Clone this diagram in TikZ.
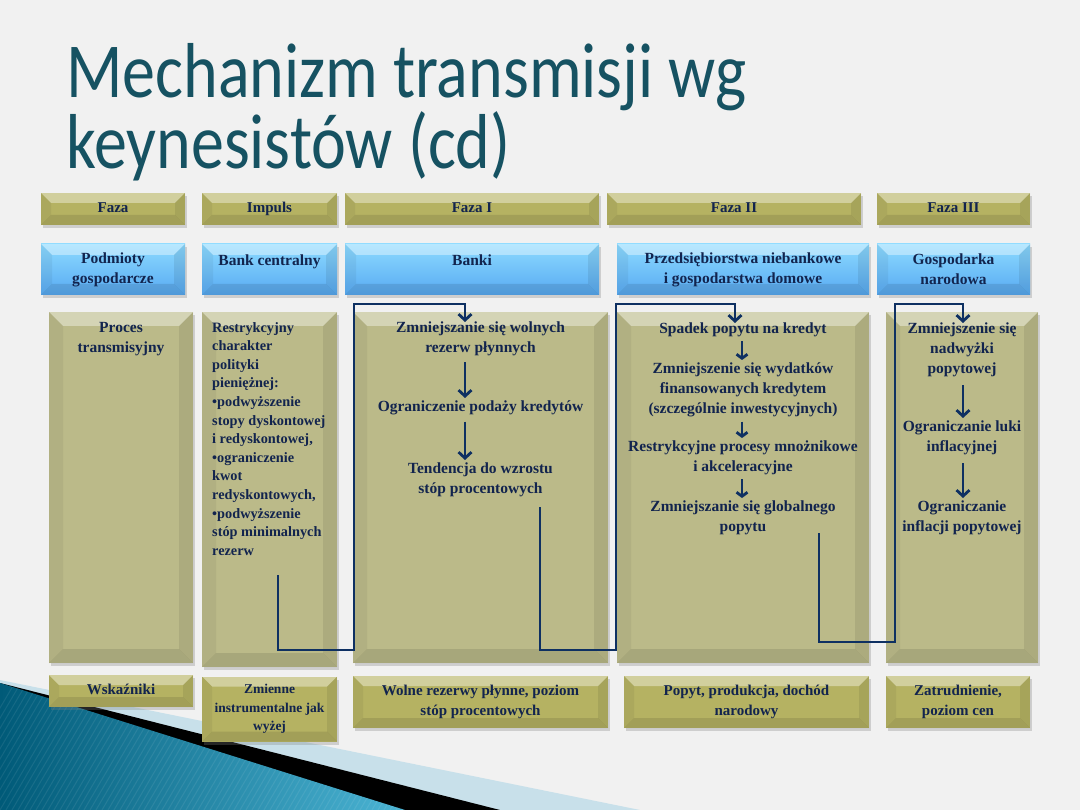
\documentclass[tikz,border=0pt]{standalone}
\usepackage{fontspec}
\setmainfont{Liberation Serif}
\newfontfamily\titlefont{Carlito}
\usetikzlibrary{arrows.meta,positioning,shadows}

\definecolor{slidebg}{RGB}{241,241,241}
\definecolor{titleteal}{RGB}{22,82,98}
\definecolor{inkblue}{RGB}{18,36,78}
\definecolor{flowblue}{RGB}{14,48,98}
\definecolor{oliv}{RGB}{181,178,98}
\definecolor{olivlight}{RGB}{187,186,137}
\definecolor{skytop}{RGB}{140,218,255}
\definecolor{skybot}{RGB}{88,170,242}
\definecolor{tealdark}{RGB}{0,90,120}
\definecolor{teallight}{RGB}{75,180,212}
\definecolor{paleblue}{RGB}{200,224,234}

\tikzset{
  bevel/.style={path picture={
    \fill[white,opacity=.38] (path picture bounding box.north west) -- (path picture bounding box.north east)
      -- ([xshift=-#1,yshift=-#1]path picture bounding box.north east) -- ([xshift=#1,yshift=-#1]path picture bounding box.north west) -- cycle;
    \fill[black,opacity=.10] (path picture bounding box.south west) -- (path picture bounding box.south east)
      -- ([xshift=-#1,yshift=#1]path picture bounding box.south east) -- ([xshift=#1,yshift=#1]path picture bounding box.south west) -- cycle;
    \fill[black,opacity=.05] (path picture bounding box.north west) -- (path picture bounding box.south west)
      -- ([xshift=#1,yshift=#1]path picture bounding box.south west) -- ([xshift=#1,yshift=-#1]path picture bounding box.north west) -- cycle;
    \fill[black,opacity=.08] (path picture bounding box.north east) -- (path picture bounding box.south east)
      -- ([xshift=-#1,yshift=#1]path picture bounding box.south east) -- ([xshift=-#1,yshift=-#1]path picture bounding box.north east) -- cycle;
  }},
  boxshadow/.style={drop shadow={opacity=.3,shadow xshift=2pt,shadow yshift=-3pt}},
  goldbox/.style={rectangle, fill=oliv, bevel=10pt, boxshadow, inner sep=0pt,
    text=inkblue, font=\fontsize{15}{20}\selectfont\bfseries, align=center},
  goldhead/.style={goldbox, minimum height=32, text height=10.5pt, text depth=3.5pt},
  bluebox/.style={rectangle, top color=skytop, bottom color=skybot, bevel=11pt, boxshadow, inner sep=0pt,
    minimum height=51, text=inkblue, font=\fontsize{15.5}{20}\selectfont\bfseries, align=center},
  colbox/.style={rectangle, fill=olivlight, bevel=14pt, boxshadow, inner sep=0pt},
  txt/.style={anchor=north, inner sep=0pt, text=inkblue, font=\fontsize{15.5}{20}\selectfont\bfseries, align=center},
  flow/.style={draw=flowblue, line width=2.8pt, -{Straight Barb[length=6pt,width=13pt]}},
  shortflow/.style={flow, -{Straight Barb[length=4pt,width=11pt]}},
}

\begin{document}
\begin{tikzpicture}[x=1pt,y=-1pt]
\useasboundingbox (0,0) rectangle (1080,810);
\fill[slidebg] (0,0) rectangle (1080,810);

% corner decoration
\fill[paleblue] (0,680) -- (640,810) -- (0,810) -- cycle;
\fill[black] (0,683) -- (500,810) -- (0,810) -- cycle;
\shade[left color=tealdark, right color=teallight] (0,683) -- (405,810) -- (0,810) -- cycle;
\begin{scope}
  \clip (0,683) -- (405,810) -- (0,810) -- cycle;
  \foreach \s in {0,6,...,480}
    \draw[white,opacity=.08,line width=1pt] (\s-60,810) -- (\s+40,640);
\end{scope}

% title
\begin{scope}[shift={(66,43)}, yscale=1.18]
  \node[anchor=north west, inner sep=0pt, align=left, text=titleteal, transform shape,
    font=\titlefont\fontsize{66}{46.6}\selectfont] (title) at (0,0)
    {Mechanizm transmisji wg\\keynesistów (cd)};
\end{scope}

% header row
\node[goldhead, minimum width=144] (faza) at (113,209) {Faza};
\node[goldhead, minimum width=135] (impuls) at (269.5,209) {Impuls};
\node[goldhead, minimum width=254] (fazaI) at (472,209) {Faza I};
\node[goldhead, minimum width=254] (fazaII) at (734,209) {Faza II};
\node[goldhead, minimum width=153] (fazaIII) at (953.5,209) {Faza III};

% actors
\node[bluebox, minimum width=144] (podm) at (113,269.5) {Podmioty\\gospodarcze};
\node[bluebox, minimum width=135, text depth=18pt] (bankc) at (269.5,269.5) {Bank centralny};
\node[bluebox, minimum width=254, text depth=18pt] (banki) at (472,269.5) {Banki};
\node[bluebox, minimum width=252] (przeds) at (743,269.5) {Przedsiębiorstwa niebankowe\\i gospodarstwa domowe};
\node[bluebox, minimum width=153] (gosp) at (953.5,269.5) {Gospodarka\\narodowa};

% process columns
\node[colbox, minimum width=144, minimum height=351] (colA) at (121,487.5) {};
\node[colbox, minimum width=135, minimum height=355] (colB) at (269.5,489.5) {};
\node[colbox, minimum width=255, minimum height=351] (colC) at (480.5,487.5) {};
\node[colbox, minimum width=252, minimum height=351] (colD) at (743,487.5) {};
\node[colbox, minimum width=152, minimum height=351] (colE) at (962,487.5) {};

\node[txt] (procA) at (121,322) {Proces\\transmisyjny};
\node[txt, anchor=north west, align=left, font=\fontsize{14.3}{18.6}\selectfont\bfseries] (polB) at (212,322)
  {Restrykcyjny\\charakter\\polityki\\pieniężnej:\\•podwyższenie\\stopy dyskontowej\\i redyskontowej,\\•ograniczenie\\kwot\\redyskontowych,\\•podwyższenie\\stóp minimalnych\\rezerw};

\node[txt] (c1) at (480.5,322) {Zmniejszanie się wolnych\\rezerw płynnych};
\node[txt] (c2) at (480.5,401) {Ograniczenie podaży kredytów};
\node[txt] (c3) at (480.5,463) {Tendencja do wzrostu\\stóp procentowych};

\node[txt] (d1) at (743,323) {Spadek popytu na kredyt};
\node[txt] (d2) at (743,363) {Zmniejszenie się wydatków\\finansowanych kredytem\\(szczególnie inwestycyjnych)};
\node[txt] (d3) at (743,441) {Restrykcyjne procesy mnożnikowe\\i akceleracyjne};
\node[txt] (d4) at (743,501) {Zmniejszanie się globalnego\\popytu};

\node[txt] (e1) at (962,323) {Zmniejszenie się\\nadwyżki\\popytowej};
\node[txt] (e2) at (962,421) {Ograniczanie luki\\inflacyjnej};
\node[txt] (e3) at (962,501) {Ograniczanie\\inflacji popytowej};

% indicators
\node[goldhead, minimum width=144] (wsk) at (121,691) {Wskaźniki};
\node[goldbox, minimum width=135, minimum height=65, font=\fontsize{13.5}{18.5}\selectfont\bfseries] (zmien) at (269.5,709) {Zmienne\\instrumentalne jak\\wyżej};
\node[goldbox, minimum width=255, minimum height=52] (wolne) at (480.5,702) {Wolne rezerwy płynne, poziom\\stóp procentowych};
\node[goldbox, minimum width=245, minimum height=52] (popyt) at (746.5,702) {Popyt, produkcja, dochód\\narodowy};
\node[goldbox, minimum width=144, minimum height=52] (zatr) at (958,702) {Zatrudnienie,\\poziom cen};

% flow inside columns
\draw[flow, shorten <=6pt, shorten >=3pt] (c1.south -| 465,0) -- (c2.north -| 465,0);
\draw[flow, shorten <=6pt, shorten >=3pt] (c2.south -| 465,0) -- (c3.north -| 465,0);
\draw[shortflow, shorten <=4pt, shorten >=3pt] (d1.south -| 742,0) -- (d2.north -| 742,0);
\draw[shortflow, shorten <=4pt, shorten >=3pt] (d2.south -| 742,0) -- (d3.north -| 742,0);
\draw[shortflow, shorten <=4pt, shorten >=3pt] (d3.south -| 742,0) -- (d4.north -| 742,0);
\draw[flow, shorten <=8pt, shorten >=3pt] (e1.south -| 963,0) -- (e2.north -| 963,0);
\draw[flow, shorten <=8pt, shorten >=3pt] (e2.south -| 963,0) -- (e3.north -| 963,0);

% flow between columns
\coordinate (outB) at (278,575);
\coordinate (outC) at (540,507);
\coordinate (outD) at (819,533);
\draw[flow] (outB) |- (354,650) |- (465,304) -- (c1.north -| 465,0);
\draw[flow] (outC) |- (616,650) |- (735,304) -- (d1.north -| 735,0);
\draw[flow] (outD) |- (895,642) |- (963,304) -- (e1.north -| 963,0);
\end{tikzpicture}
\end{document}
